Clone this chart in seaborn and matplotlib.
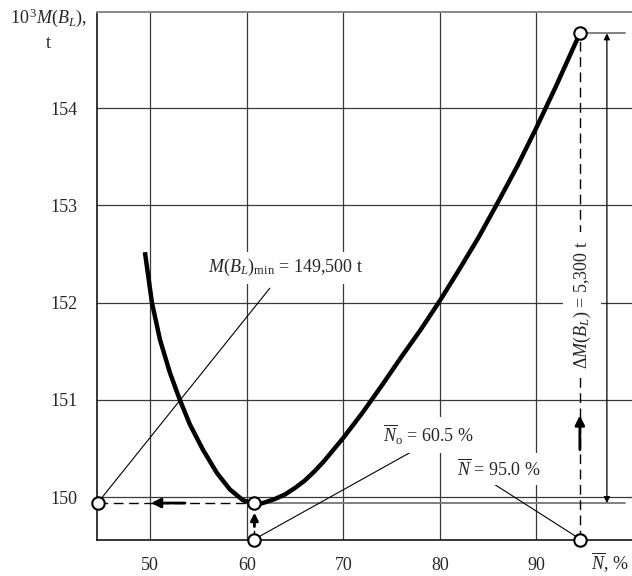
import numpy as np
import pandas as pd
import seaborn as sns
import matplotlib.pyplot as plt

# curve M(B_L) vs mean load N
n_pct = [49.46, 50.19, 51.02, 52.05, 53.08, 54.11, 55.46, 56.91, 58.26, 59.6, 60.8,
         61.5, 62.0, 63.0, 64.0, 65.0, 66.0, 67.0, 68.0, 70.0, 72.0, 74.0, 76.0,
         78.0, 80.0, 82.0, 84.0, 86.0, 88.0, 90.0, 92.0, 94.5]
m_kt = [152.52, 152.00, 151.62, 151.28, 151.00, 150.75, 150.49, 150.25, 150.08, 149.97, 149.93,
        149.936, 149.95, 149.985, 150.03, 150.095, 150.17, 150.264, 150.37, 150.61, 150.87,
        151.15, 151.44, 151.72, 152.02, 152.34, 152.67, 153.03, 153.40, 153.80, 154.22, 154.77]

n_opt, m_min = 60.8, 149.94       # optimum point
n_act, m_act = 94.5, 154.77       # actual point
x_left, y_bottom = 44.6, 149.56
x_ticks = [50, 60, 70, 80, 90]
y_ticks = [150, 151, 152, 153, 154]

lbl_min = r'$M(B_L)_{\mathrm{min}}$ = 149,500 t'
lbl_nopt = r'$\overline{N}_{\mathrm{o}}$ = 60.5 %'
lbl_nact = r'$\overline{N}$ = 95.0 %'
lbl_delta = r'$\Delta M(B_L)$ = 5,300 t'

sns.set_theme(style='white')
plt.rcParams['font.family'] = ['Liberation Serif', 'DejaVu Serif']
plt.rcParams['mathtext.fontset'] = 'custom'
plt.rcParams['mathtext.rm'] = 'Liberation Serif'
plt.rcParams['mathtext.it'] = 'Liberation Serif:italic'

fig = plt.figure(figsize=(6.32, 5.76), dpi=100)
ax = fig.add_axes([0.1535, 0.0625, 0.8465, 0.9167])

df = pd.DataFrame({'N': n_pct, 'M': m_kt})
sns.lineplot(data=df, x='N', y='M', ax=ax, color='black', lw=3.2, sort=False,
             solid_joinstyle='round', solid_capstyle='butt', zorder=5)

ax.set_xlim(44.5, 99.9)
ax.set_ylim(149.56, 154.99)
ax.set_xticks(x_ticks)
ax.set_yticks(y_ticks)
ax.tick_params(axis='both', length=0, labelsize=13)
ax.tick_params(axis='y', pad=14)
ax.tick_params(axis='x', pad=12)
ax.set_xlabel('')
ax.set_ylabel('')
ax.grid(True, color='#3a3a3a', lw=0.9)
ax.set_axisbelow(True)
for s in ['left', 'bottom']:
    ax.spines[s].set_color('black')
    ax.spines[s].set_linewidth(1.1)
ax.spines['top'].set_color('#888888')
ax.spines['top'].set_linewidth(1.4)
ax.spines['right'].set_visible(False)

# extension lines of the dimension
ax.plot([60.1, 99.2], [m_min, m_min], color='#777777', lw=1.3, zorder=2)
ax.plot([n_act, 99.2], [m_act, m_act], color='#777777', lw=1.3, zorder=2)

# dashed construction lines
dash = dict(color='black', lw=1.0, ls=(0, (7, 4)), zorder=3)
ax.plot([x_left, n_opt], [m_min, m_min], **dash)
ax.plot([n_opt, n_opt], [y_bottom, m_min], **dash)
ax.plot([n_act, n_act], [y_bottom, m_act], **dash)

# thick arrows
ax.annotate('', xy=(49.8, m_min), xytext=(53.9, m_min),
            arrowprops=dict(arrowstyle='-|>', color='black', lw=2, mutation_scale=14), zorder=6)
ax.annotate('', xy=(n_opt, 149.87), xytext=(n_opt, 149.67),
            arrowprops=dict(arrowstyle='-|>', color='black', lw=2, mutation_scale=11), zorder=6)
ax.annotate('', xy=(n_act, 150.87), xytext=(n_act, 150.46),
            arrowprops=dict(arrowstyle='-|>', color='black', lw=2, mutation_scale=14), zorder=6)

# dimension line
ax.annotate('', xy=(97.3, m_act), xytext=(97.3, m_min),
            arrowprops=dict(arrowstyle='<|-|>', color='black', lw=0.9, mutation_scale=9,
                            shrinkA=0, shrinkB=0), zorder=4)

# leader lines
lead = dict(color='black', lw=0.8, zorder=3)
ax.plot([44.8, 62.4], [149.97, 152.15], **lead)
ax.plot([61.2, 78.2], [149.59, 150.53], **lead)
ax.plot([84.9, 94.2], [150.18, 149.59], **lead)

box = dict(facecolor='white', edgecolor='none', pad=4)
ax.text(56.0, 152.36, lbl_min, fontsize=13, ha='left', va='center', bbox=box, zorder=7)
ax.text(74.1, 150.64, lbl_nopt, fontsize=13, ha='left', va='center', bbox=box, zorder=7)
ax.text(81.75, 150.29, lbl_nact, fontsize=13, ha='left', va='center', bbox=box, zorder=7)
ax.text(94.75, 151.98, lbl_delta, fontsize=13, ha='center', va='center', rotation=90,
        bbox=dict(facecolor='white', edgecolor='none', pad=6), zorder=7)

# key points
pts = pd.DataFrame({'N': [x_left, n_opt, n_opt, n_act, n_act],
                    'M': [m_min, m_min, y_bottom, m_act, y_bottom]})
sns.scatterplot(data=pts, x='N', y='M', ax=ax, s=80, facecolor='white', edgecolor='black',
                linewidth=1.5, clip_on=False, zorder=10)
ax.set_xlabel('')
ax.set_ylabel('')

fig.text(49 / 632, 1 - 18 / 576, r'10$^{\,3}$$M(B_L)$,', fontsize=13, ha='center', va='center')
fig.text(48 / 632, 1 - 43 / 576, 't', fontsize=13, ha='center', va='center')
fig.text(610 / 632, 1 - 563 / 576, r'$\overline{N}$, %', fontsize=13, ha='center', va='center')

fig.savefig('out.png', dpi=100)
